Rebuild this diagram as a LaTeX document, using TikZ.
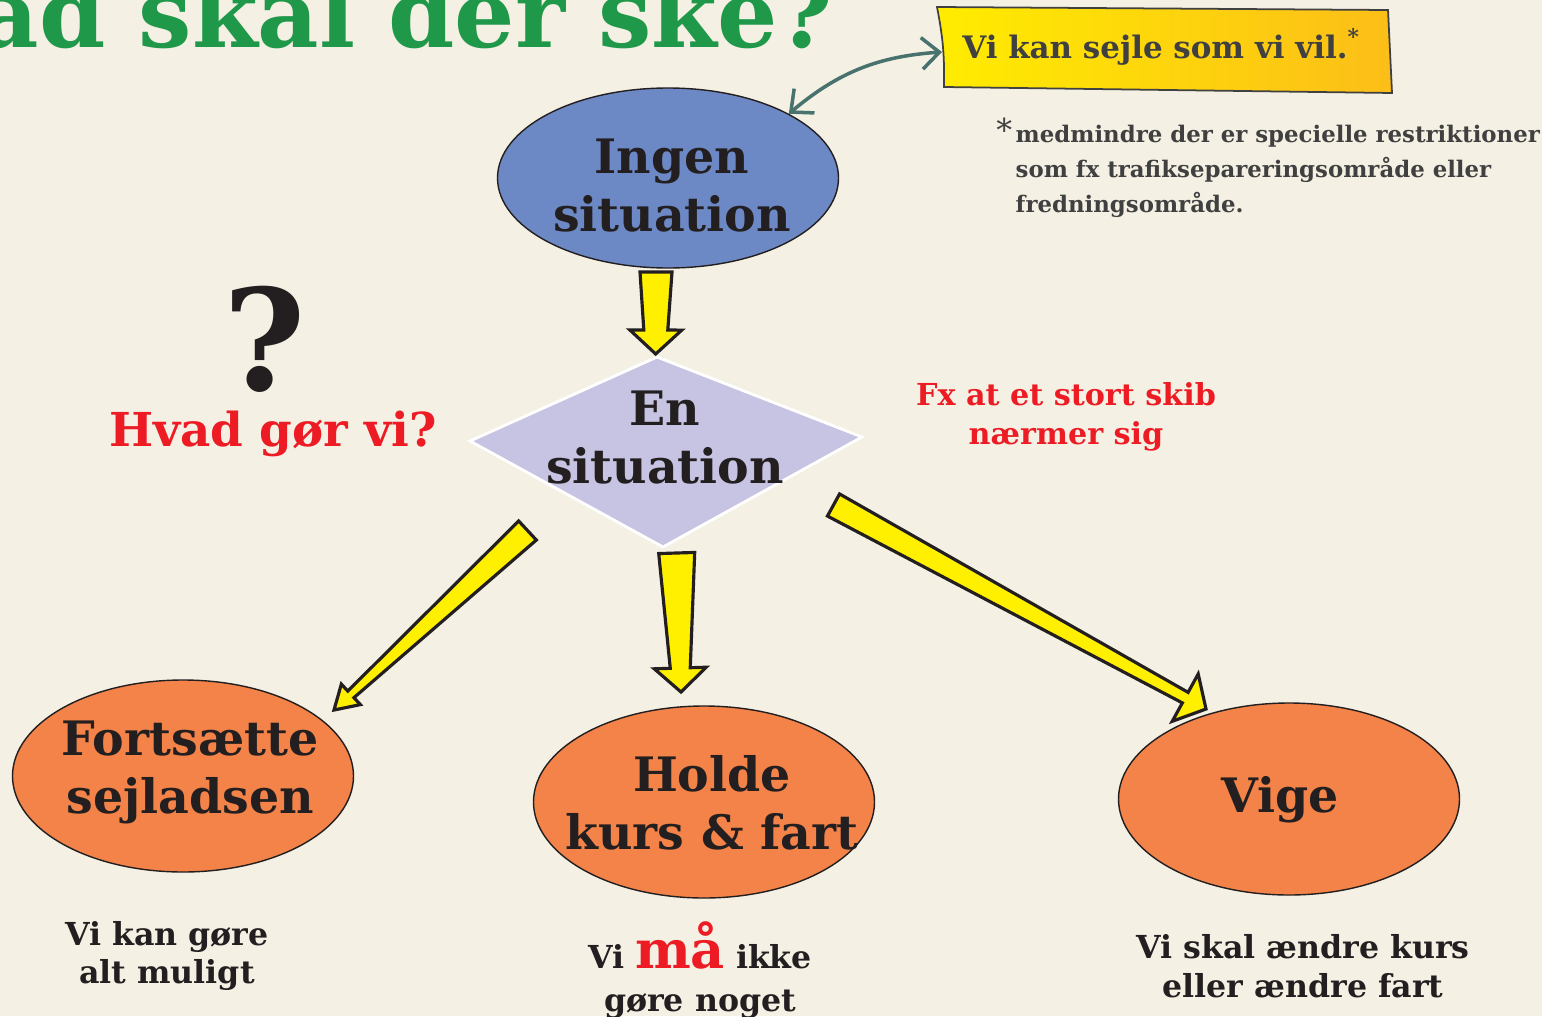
\documentclass[tikz,border=0pt]{standalone}
\usepackage{fontspec}
\setmainfont{DejaVu Serif}
\usetikzlibrary{arrows.meta,calc,shapes.geometric}

\definecolor{bg}{RGB}{244,240,227}
\definecolor{titlegreen}{RGB}{31,152,74}
\definecolor{ingenblue}{RGB}{108,137,197}
\definecolor{lavender}{RGB}{198,196,226}
\definecolor{choice}{RGB}{243,131,72}
\definecolor{arrowyellow}{RGB}{255,240,0}
\definecolor{boxyellow}{RGB}{255,236,0}
\definecolor{boxorange}{RGB}{252,190,24}
\definecolor{alertred}{RGB}{237,28,36}
\definecolor{ink}{RGB}{35,31,32}
\definecolor{note}{RGB}{64,64,64}
\definecolor{linkteal}{RGB}{72,114,110}

\newcommand{\fsz}[2]{\fontsize{#1}{#2}\selectfont}
% start, tip, half width at start, at neck, of head, head length
\newcommand{\fatarrow}[6]{%
  \coordinate (neck) at ($(#2)!#6!(#1)$);
  \draw[blockarr] ($(#1)!#3!90:(#2)$) -- ($(neck)!#4!90:(#2)$) -- ($(neck)!#5!90:(#2)$) -- (#2)
    -- ($(neck)!#5!-90:(#2)$) -- ($(neck)!#4!-90:(#2)$) -- ($(#1)!#3!-90:(#2)$) -- cycle;
}

\tikzset{
  bubble/.style={ellipse, draw=ink, line width=0.4pt, minimum width=3.41cm, minimum height=1.92cm, inner sep=0pt},
  bigtxt/.style={text=ink, font=\bfseries\fsz{13.5}{16.5}, align=center},
  smalltxt/.style={text=ink, font=\bfseries\fsz{9}{11}, align=center},
  blockarr/.style={fill=arrowyellow, draw=ink, line width=0.9pt, line join=miter},
}

\begin{document}
\begin{tikzpicture}
  \fill[bg] (0,0) rectangle (15.42,-10.16);
  \useasboundingbox (0,0) rectangle (15.42,-10.16);
  \clip (0,0) rectangle (15.42,-10.16);

  % title, cut off at the top
  \node[anchor=base east, inner sep=0, text=titlegreen, font=\bfseries\fsz{27}{30}] (title) at (8.34,-0.47) {Hvad skal der ske?};

  \node[bubble, fill=ingenblue, minimum height=1.8cm] (ingen) at (6.68,-1.78) {};
  \node[bigtxt] at (6.72,-1.86) {Ingen\\situation};

  \filldraw[fill=lavender, draw=white, line width=0.8pt] (6.57,-3.57) -- (8.62,-4.37) -- (6.63,-5.47) -- (4.70,-4.41) -- cycle;
  \node[bigtxt] (sit) at (6.65,-4.38) {En\\situation};

  \node[anchor=base, inner sep=0pt, text=ink, font=\bfseries\fsz{40}{40}] (q) at (2.65,-3.90) {?};
  \node[anchor=base, text=alertred, font=\bfseries\fsz{13.3}{15}, inner sep=0pt] (hvad) at (2.73,-4.46) {Hvad gør vi?};
  \node[text=alertred, font=\bfseries\fsz{8.6}{11}, align=center] (fx) at (10.66,-4.17) {Fx at et stort skib\\nærmer sig};

  \node[bubble, fill=choice] (fort) at (1.83,-7.76) {};
  \node[bubble, fill=choice] (hold) at (7.04,-8.02) {};
  \node[bubble, fill=choice] (vige) at (12.89,-7.99) {};
  \node[bigtxt] at (1.90,-7.72) {Fortsætte\\sejladsen};
  \node[bigtxt] at (7.12,-8.03) {Holde\\kurs \& fart};
  \node[bigtxt] at (12.80,-8.00) {Vige};

  \node[smalltxt] at (1.67,-9.56) {Vi kan gøre\\alt muligt};
  \node[smalltxt, font=\bfseries\fsz{9}{12}] at (7.00,-9.70) {Vi {\color{alertred}\fsz{15}{15}må} ikke\\gøre noget};
  \node[smalltxt] at (13.03,-9.66) {Vi skal ændre kurs\\eller ændre fart};

  % yellow arrows
  \coordinate (s1) at (6.56,-2.72);  \coordinate (t1) at (6.557,-3.54);
  \coordinate (s2) at (5.275,-5.305); \coordinate (t2) at (3.34,-7.10);
  \coordinate (s3) at (6.767,-5.53); \coordinate (t3) at (6.81,-6.92);
  \coordinate (s4) at (8.335,-5.05); \coordinate (t4) at (12.06,-7.09);
  \fatarrow{s1}{t1}{0.16cm}{0.12cm}{0.26cm}{0.24cm}
  \fatarrow{s2}{t2}{0.13cm}{0.045cm}{0.14cm}{0.23cm}
  \fatarrow{s3}{t3}{0.18cm}{0.10cm}{0.26cm}{0.24cm}
  \fatarrow{s4}{t4}{0.126cm}{0.06cm}{0.27cm}{0.237cm}

  % note box
  \shadedraw[left color=boxyellow, right color=boxorange, draw=note, line width=0.5pt]
    (9.37,-0.07) -- (13.88,-0.10) -- (13.92,-0.93) -- (9.44,-0.87) to[bend right=6] cycle;
  \coordinate (boxw) at (9.42,-0.52);
  \node[text=note, font=\bfseries\fsz{8.8}{10}] (sejl) at (11.55,-0.47) {Vi kan sejle som vi vil.\rlap{\textsuperscript{*}}};
  \draw[linkteal, line width=1pt, {Straight Barb[length=5pt,width=9pt]}-{Straight Barb[length=5pt,width=9pt]}] (ingen.28) to[bend left=18] (boxw);

  \node[anchor=north west, text=note, font=\bfseries\fsz{6.5}{10}, align=left, inner sep=0pt] (fn) at (10.15,-1.24) {medmindre der er specielle restriktioner\\som fx trafiksepareringsområde eller\\fredningsområde.};
  \node[anchor=north east, text=note, font=\fsz{9}{9}, inner sep=0pt] at ($(fn.north west)+(-0.02,0.07)$) {*};
\end{tikzpicture}
\end{document}
